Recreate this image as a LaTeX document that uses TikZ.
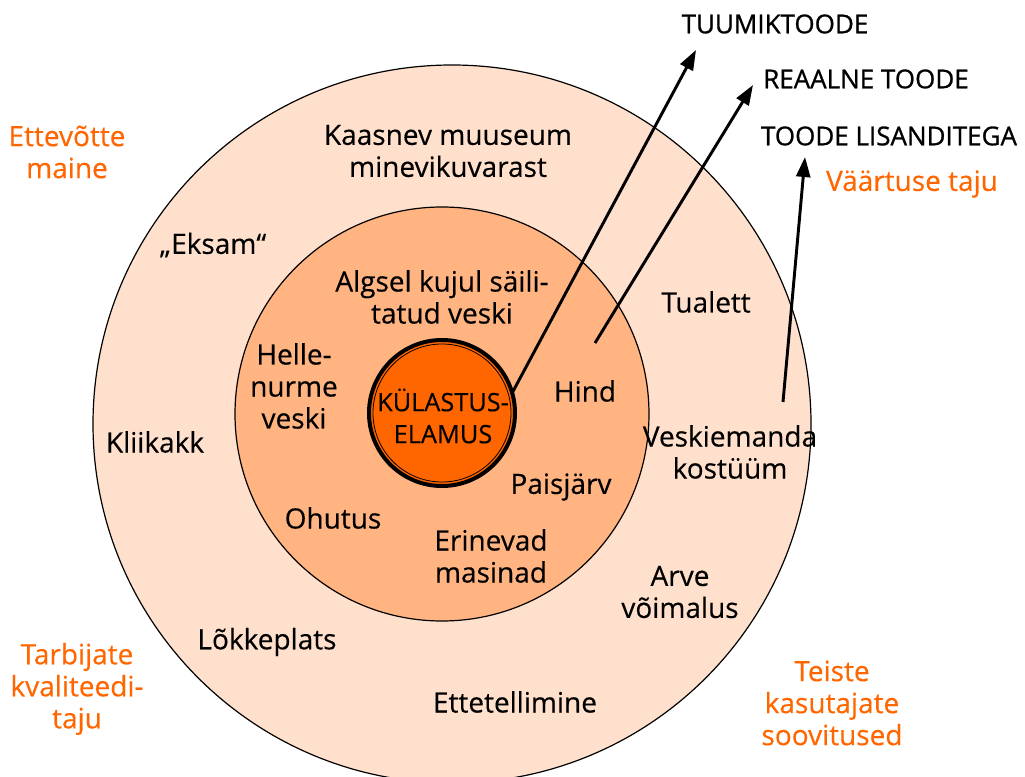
\documentclass[tikz,border=0pt]{standalone}
\usepackage{fontspec}
\setmainfont{Open Sans}[FakeBold=0.35]
\newfontfamily\capfont{Open Sans}[FakeBold=0.9]
\usetikzlibrary{arrows.meta}
\definecolor{outerfill}{RGB}{255,224,204}
\definecolor{midfill}{RGB}{255,180,130}
\definecolor{corefill}{RGB}{255,102,0}
\definecolor{orangetext}{RGB}{255,102,0}
\begin{document}
\begin{tikzpicture}[x=0.75pt,y=-0.75pt,
  ring/.style={circle, draw=black, line width=0.9pt, inner sep=0pt, outer sep=0pt},
  lbl/.style={align=center, font=\fontsize{21pt}{24pt}\selectfont, text=black, inner sep=0pt},
  olbl/.style={lbl, text=orangetext},
  caplbl/.style={align=center, font=\capfont\fontsize{19.5pt}{23pt}\selectfont, text=black, inner sep=0pt},
  arr/.style={line width=2.2pt, -{Triangle[length=15pt,width=10.5pt]}}
]
\useasboundingbox (0,0) rectangle (1025,777);
\clip (0,0) rectangle (1025,777);
% circles
\node[ring, fill=outerfill, minimum size=538.5pt] (outer) at (452,424) {};
\node[ring, fill=midfill, minimum size=310.5pt] (middle) at (442,414) {};
\node[circle, draw=black, fill=corefill, line width=3pt, inner sep=0pt, outer sep=0pt, minimum size=109.5pt] (core) at (442,413) {};
\node[circle, draw=black, line width=0.6pt, inner sep=0pt, minimum size=103.5pt] (coreline) at (core.center) {};
\node[lbl, font=\fontsize{19pt}{24pt}\selectfont] (coretext) at (443,416) {KÜLASTUS-\\ELAMUS};
% inner ring labels
\node[lbl] (algsel) at (442,297) {Algsel kujul säili-\\tatud veski};
\node[lbl] (helle) at (294,386) {Helle-\\nurme\\veski};
\node[lbl] (hind) at (585,391) {Hind};
\node[lbl] (paisjarv) at (561,487) {Paisjärv};
\node[lbl] (ohutus) at (333,518) {Ohutus};
\node[lbl] (erinevad) at (491,556) {Erinevad\\masinad};
% outer ring labels
\node[lbl] (kaasnev) at (448,151) {Kaasnev muuseum\\minevikuvarast};
\node[lbl] (eksam) at (213,245) {„Eksam“};
\node[lbl] (tualett) at (706,302) {Tualett};
\node[lbl] (kliikakk) at (155,442) {Kliikakk};
\node[lbl] (veskiemanda) at (730,452) {Veskiemanda\\kostüüm};
\node[lbl] (arve) at (680,592) {Arve\\võimalus};
\node[lbl] (lokkeplats) at (267,642) {Lõkkeplats};
\node[lbl] (ettetellimine) at (515,702) {Ettetellimine};
% orange outside labels
\node[olbl] (ettevotte) at (67,152) {Ettevõtte\\maine};
\node[olbl] (tarbijate) at (77,689) {Tarbijate\\kvaliteedi-\\taju};
\node[olbl] (teiste) at (832,703) {Teiste\\kasutajate\\soovitused};
\node[olbl] (vaartuse) at (912,184) {Väärtuse taju};
% product levels
\node[caplbl] (tuumik) at (775,24) {TUUMIKTOODE};
\node[caplbl] (reaalne) at (866,79) {REAALNE TOODE};
\node[caplbl] (lisandid) at (889,136) {TOODE LISANDITEGA};
% arrows
\coordinate (tip1) at (696,50);
\coordinate (start2) at (595,343);
\coordinate (tip2) at (753,85);
\coordinate (start3) at (783,402);
\coordinate (tip3) at (805,157);
\draw[arr] (core.16) -- (tip1);
\draw[arr] (start2) -- (tip2);
\draw[arr] (start3) -- (tip3);
\end{tikzpicture}
\end{document}
